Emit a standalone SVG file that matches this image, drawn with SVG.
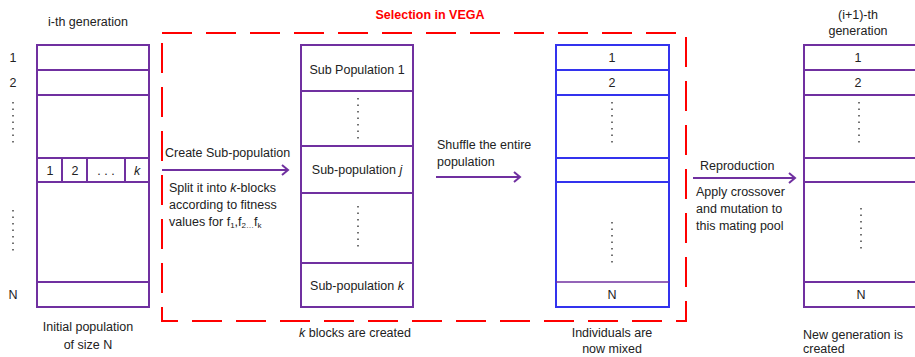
<svg xmlns="http://www.w3.org/2000/svg" width="915" height="357" viewBox="0 0 915 357">
<style>
text{font-family:"Liberation Sans","Open Sans",sans-serif;font-size:12.5px;fill:#222}
.c{text-anchor:middle}
.p{fill:none;stroke:#7030a0;stroke-width:2}
.b{fill:none;stroke:#3333ee;stroke-width:2}
.dots{stroke:#444;stroke-width:1.5;stroke-dasharray:1.5 5}
.arr{stroke:#7030a0;stroke-width:2;fill:none;marker-end:url(#ah)}
</style>
<defs>
<marker id="ah" markerWidth="10" markerHeight="12" refX="8" refY="6" orient="auto" markerUnits="userSpaceOnUse">
<polyline points="2,1 8,6 2,11" fill="none" stroke="#7030a0" stroke-width="2"/>
</marker>
</defs>
<rect x="0" y="0" width="915" height="357" fill="#fff"/>

<g id="selection">
<rect x="162" y="33" width="524" height="288" fill="none" stroke="#ff0000" stroke-width="2" stroke-dasharray="30 14"/>
<text x="430" y="19" class="c" style="fill:#ff0000;font-weight:bold">Selection in VEGA</text>
</g>

<g id="gen-i">
<text x="88" y="26" class="c">i-th generation</text>
<rect x="37" y="45" width="112" height="262" class="p"/>
<path d="M37 70H149M37 95H149M37 158H149M37 182H149M37 282H149M62 158V182M87 158V182M125 158V182" class="p"/>
<text x="50" y="175" class="c">1</text>
<text x="75" y="175" class="c">2</text>
<text x="106" y="175" class="c">. . .</text>
<text x="137" y="175" class="c" style="font-style:italic">k</text>
<text x="13" y="62" class="c">1</text>
<text x="13" y="87" class="c">2</text>
<line x1="13" y1="102" x2="13" y2="146" class="dots"/>
<line x1="13" y1="210" x2="13" y2="252" class="dots"/>
<text x="13" y="299" class="c">N</text>
<text x="88" y="331" class="c">Initial population</text>
<text x="88" y="349" class="c">of size N</text>
</g>

<g id="subpop">
<rect x="301" y="45" width="112" height="262" class="p"/>
<path d="M301 91H413M301 146H413M301 193H413M301 263H413" class="p"/>
<text x="357" y="74" class="c">Sub Population 1</text>
<line x1="358" y1="98" x2="358" y2="140" class="dots"/>
<text x="357" y="174" class="c">Sub-population <tspan style="font-style:italic">j</tspan></text>
<line x1="358" y1="206" x2="358" y2="250" class="dots"/>
<text x="357" y="290" class="c">Sub-population <tspan style="font-style:italic">k</tspan></text>
<text x="355" y="337" class="c"><tspan style="font-style:italic">k</tspan> blocks are created</text>
</g>

<g id="mixed">
<rect x="556" y="45" width="113" height="262" class="b"/>
<path d="M556 70H669M556 95H669M556 158H669M556 182H669" class="b"/>
<line x1="556" y1="282" x2="669" y2="282" stroke="#7030a0" stroke-width="1.5"/>
<text x="612" y="62" class="c">1</text>
<text x="612" y="87" class="c">2</text>
<line x1="612" y1="102" x2="612" y2="146" class="dots"/>
<line x1="612" y1="222" x2="612" y2="266" class="dots"/>
<text x="612" y="299" class="c">N</text>
<text x="612" y="337" class="c">Individuals are</text>
<text x="612" y="353" class="c">now mixed</text>
</g>

<g id="gen-i1">
<text x="858" y="19" class="c">(i+1)-th</text>
<text x="858" y="35" class="c">generation</text>
<path d="M916 45H804V307H916M804 70H916M804 95H916M804 158H916M804 182H916M804 282H916" class="p"/>
<text x="858" y="62" class="c">1</text>
<text x="858" y="87" class="c">2</text>
<line x1="859" y1="102" x2="859" y2="146" class="dots"/>
<line x1="861" y1="208" x2="861" y2="250" class="dots"/>
<text x="861" y="299" class="c">N</text>
<text x="803" y="339">New generation is</text>
<text x="803" y="353">created</text>
</g>

<g id="connectors">
<line x1="162" y1="170" x2="288" y2="170" class="arr"/>
<text x="165" y="157">Create Sub-population</text>
<text x="169" y="192">Split it into <tspan style="font-style:italic">k</tspan>-blocks</text>
<text x="169" y="209">according to fitness</text>
<text x="169" y="226">values for f<tspan style="font-size:8px" dy="2">1</tspan><tspan dy="-2">,f</tspan><tspan style="font-size:8px" dy="2">2…</tspan><tspan dy="-2">f</tspan><tspan style="font-size:8px" dy="2">k</tspan></text>
<line x1="436" y1="177" x2="520" y2="177" class="arr"/>
<text x="437" y="149">Shuffle the entire</text>
<text x="437" y="166">population</text>
<line x1="693" y1="178" x2="795" y2="178" class="arr"/>
<text x="700" y="170">Reproduction</text>
<text x="696" y="196">Apply crossover</text>
<text x="696" y="213">and mutation to</text>
<text x="696" y="230">this mating pool</text>
</g>
</svg>
